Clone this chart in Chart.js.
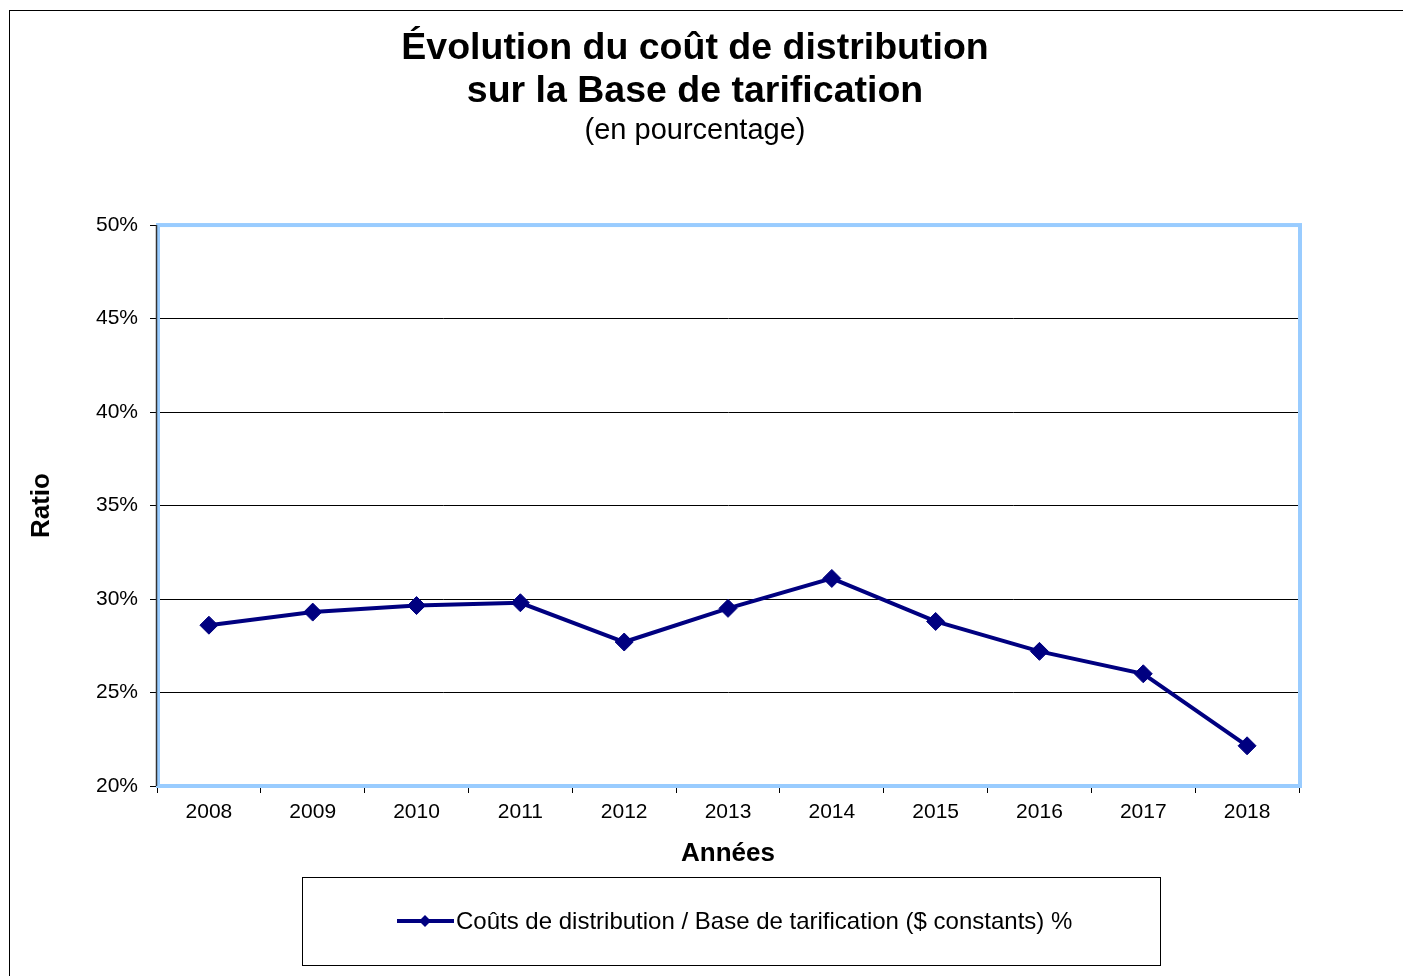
<!DOCTYPE html>
<html>
<head>
<meta charset="utf-8">
<script src="https://cdn.jsdelivr.net/npm/chart.js@4/dist/chart.umd.min.js"></script>
<style>
  body { margin: 0; background: #fff; }
</style>
</head>
<body>
<canvas id="costChart" width="1403" height="976"></canvas>
<script>
const years = ['2008', '2009', '2010', '2011', '2012', '2013', '2014', '2015', '2016', '2017', '2018']
const ratios = [28.6, 29.3, 29.65, 29.8, 27.7, 29.5, 31.1, 28.8, 27.2, 26.0, 22.15]
const seriesLabel = 'Coûts de distribution / Base de tarification ($ constants) %'
const titleLines = ['Évolution du coût de distribution', 'sur la Base de tarification']
const subtitleText = '(en pourcentage)'

const navy = '#000080'
const fontFamily = '"Liberation Sans", Arial, sans-serif'

// frame, blue plot border and the boxed legend
const decorations = {
    id: 'decorations',
    beforeDraw(chart) {
        const ctx = chart.ctx
        ctx.save()
        ctx.strokeStyle = '#000'
        ctx.lineWidth = 1
        ctx.strokeRect(9.5, 10.5, 1500, 1000)
        ctx.restore()
    },
    beforeDatasetsDraw(chart) {
        const {ctx, chartArea: a} = chart
        ctx.save()
        ctx.strokeStyle = '#99CCFF'
        ctx.lineWidth = 4
        ctx.strokeRect(a.left + 1, a.top, a.right - a.left, a.bottom - a.top)
        ctx.strokeStyle = '#333'
        ctx.lineWidth = 1.5
        ctx.beginPath()
        ctx.moveTo(a.left - 0.5, a.top)
        ctx.lineTo(a.left - 0.5, a.bottom)
        ctx.stroke()
        ctx.restore()
    },
    afterDraw(chart) {
        const ctx = chart.ctx
        const ds = chart.data.datasets[0]
        ctx.save()
        ctx.strokeStyle = '#000'
        ctx.lineWidth = 1
        ctx.strokeRect(302.5, 877.5, 858, 88)
        const y = 921
        ctx.strokeStyle = ds.borderColor
        ctx.lineWidth = 4
        ctx.beginPath()
        ctx.moveTo(397, y)
        ctx.lineTo(454, y)
        ctx.stroke()
        ctx.fillStyle = ds.borderColor
        ctx.beginPath()
        ctx.moveTo(425 - 6, y)
        ctx.lineTo(425, y - 6)
        ctx.lineTo(425 + 6, y)
        ctx.lineTo(425, y + 6)
        ctx.closePath()
        ctx.fill()
        ctx.fillStyle = '#000'
        ctx.font = '24px ' + fontFamily
        ctx.textBaseline = 'middle'
        ctx.fillText(ds.label, 456, y + 1)
        ctx.restore()
    }
}

const ctx = document.getElementById('costChart').getContext('2d')
new Chart(ctx, {
    type: 'line',
    data: {
        labels: years,
        datasets: [{
            label: seriesLabel,
            data: ratios,
            borderColor: navy,
            backgroundColor: navy,
            borderWidth: 4,
            pointStyle: 'rectRot',
            pointRadius: 9,
            pointBorderWidth: 1,
            pointBackgroundColor: navy,
            pointBorderColor: navy,
            tension: 0,
            fill: false
        }]
    },
    options: {
        responsive: false,
        animation: false,
        devicePixelRatio: 1,
        layout: { padding: { top: 0, left: 0, right: 13, bottom: 107 } },
        plugins: {
            legend: { display: false },
            tooltip: { enabled: false },
            title: {
                display: true,
                text: titleLines,
                color: '#000',
                font: { family: fontFamily, size: 37.5, weight: 'bold', lineHeight: 1.15 },
                padding: { top: 27, bottom: 0 }
            },
            subtitle: {
                display: true,
                text: subtitleText,
                color: '#000',
                font: { family: fontFamily, size: 29, weight: 'normal', lineHeight: 1.2 },
                padding: { top: 0, bottom: 77 }
            }
        },
        scales: {
            x: {
                offset: true,
                afterFit(scale) { scale.height = 83 },
                grid: { offset: true, drawOnChartArea: false, drawTicks: true, tickLength: 7, color: '#000' },
                border: { display: false },
                ticks: { color: '#000', padding: 7, font: { family: fontFamily, size: 21 } },
                title: {
                    display: true,
                    text: 'Années',
                    color: '#000',
                    padding: 0,
                    font: { family: fontFamily, size: 26, weight: 'bold', lineHeight: 1.2 }
                }
            },
            y: {
                min: 20,
                max: 50,
                afterFit(scale) { scale.width = 157 },
                grid: { color: '#000', lineWidth: 1, tickLength: 7 },
                border: { display: true, color: '#333' },
                ticks: {
                    stepSize: 5,
                    color: '#000',
                    padding: 12,
                    font: { family: fontFamily, size: 21 },
                    callback: v => v + '%'
                },
                title: {
                    display: true,
                    text: 'Ratio',
                    color: '#000',
                    padding: { top: 26, bottom: 0 },
                    font: { family: fontFamily, size: 26, weight: 'bold', lineHeight: 1.2 }
                }
            },
            // empty right-hand box so the title centres like the original
            yRight: {
                position: 'right',
                display: true,
                afterFit(scale) { scale.width = 91 },
                grid: { display: false, drawTicks: false },
                border: { display: false },
                ticks: { display: false }
            }
        }
    },
    plugins: [decorations]
})
</script>
</body>
</html>
